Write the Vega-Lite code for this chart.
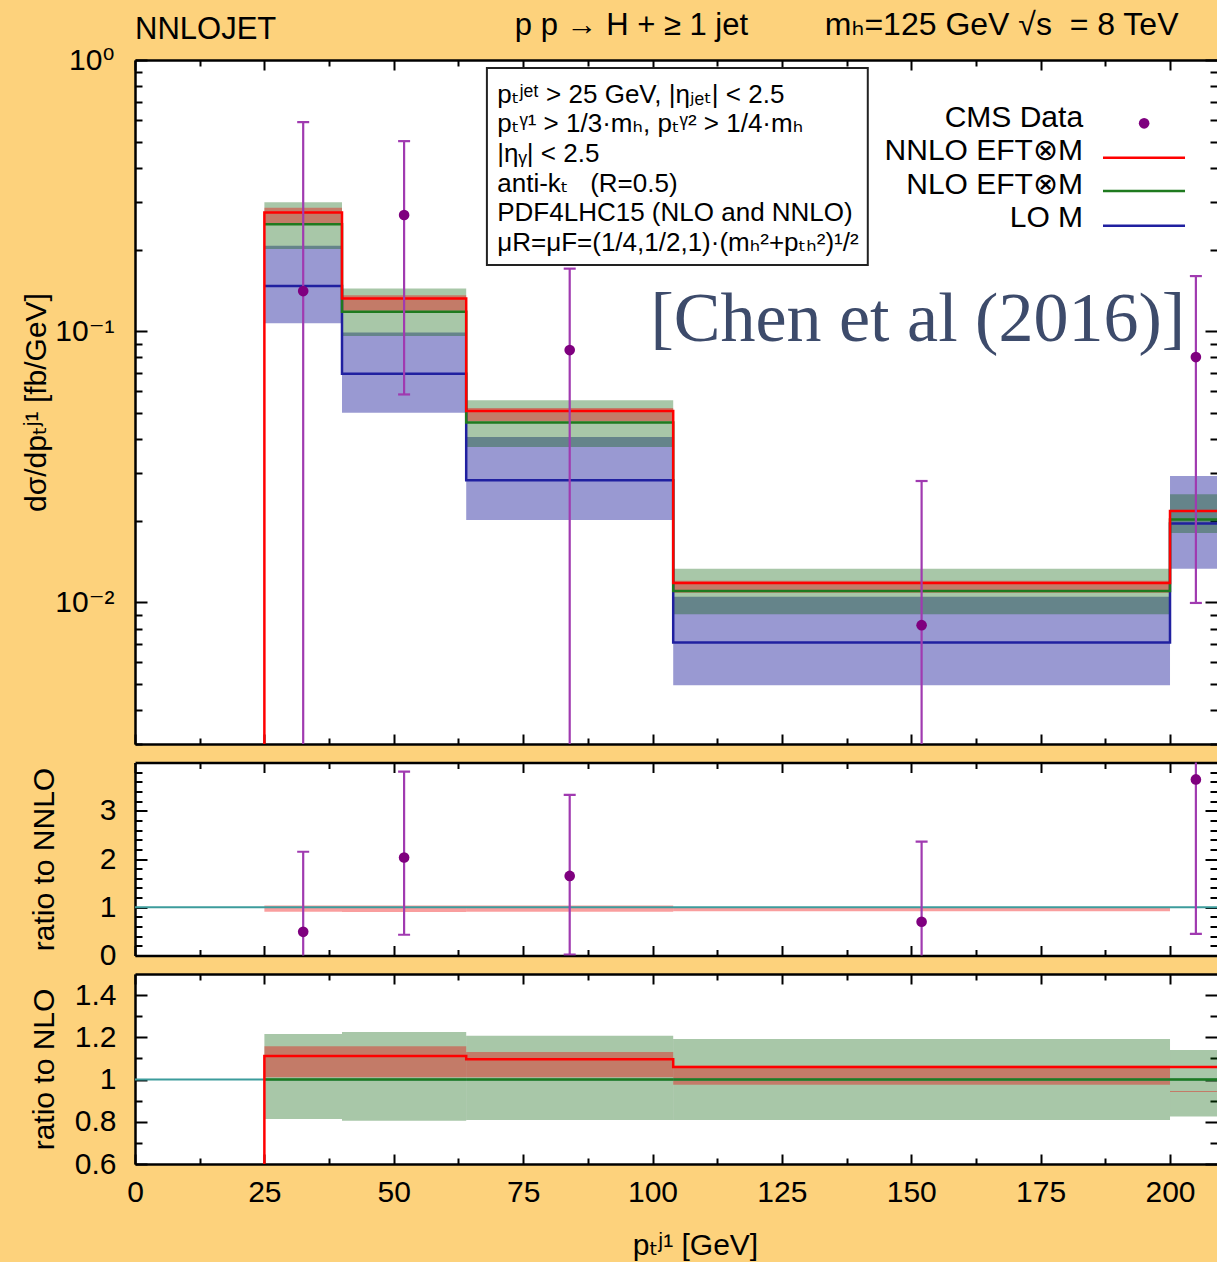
{
  "$schema": "https://vega.github.io/schema/vega-lite/v6.json",
  "background": "#FDD27C",
  "padding": {"left": 21, "top": 9, "right": 0, "bottom": 2},
  "config": {
    "font": "Liberation Sans, DejaVu Sans",
    "view": {"fill": "white", "stroke": null},
    "axis": {
      "labelFont": "Liberation Sans, DejaVu Sans",
      "labelFontSize": 30,
      "labelColor": "black",
      "titleFont": "Liberation Sans, DejaVu Sans",
      "titleFontSize": 30,
      "titleFontWeight": "normal",
      "titleColor": "black",
      "domainColor": "black",
      "domainWidth": 2.5,
      "tickColor": "black",
      "tickWidth": 2,
      "grid": false,
      "labelOverlap": false,
      "labelFlush": false,
      "labelBound": false
    }
  },
  "datasets": {
    "bins": [
      {"order": "LO", "lo": 25, "hi": 40, "central": 0.1466, "low": 0.1068, "high": 0.2065},
      {"order": "LO", "lo": 40, "hi": 64, "central": 0.0696, "low": 0.05, "high": 0.0989},
      {"order": "LO", "lo": 64, "hi": 104, "central": 0.0282, "low": 0.0201, "high": 0.0407},
      {"order": "LO", "lo": 104, "hi": 200, "central": 0.0071, "low": 0.00494, "high": 0.01047},
      {"order": "LO", "lo": 200, "hi": 220, "central": 0.0195, "low": 0.0133, "high": 0.0292},
      {"order": "NLO", "lo": 25, "hi": 40, "central": 0.248, "low": 0.2008, "high": 0.299},
      {"order": "NLO", "lo": 40, "hi": 64, "central": 0.1178, "low": 0.0959, "high": 0.1437},
      {"order": "NLO", "lo": 64, "hi": 104, "central": 0.046, "low": 0.0374, "high": 0.0556},
      {"order": "NLO", "lo": 104, "hi": 200, "central": 0.011, "low": 0.00903, "high": 0.0133},
      {"order": "NLO", "lo": 200, "hi": 220, "central": 0.0202, "low": 0.018, "high": 0.025},
      {"order": "NNLO", "lo": 25, "hi": 40, "central": 0.274, "low": 0.25, "high": 0.285},
      {"order": "NNLO", "lo": 40, "hi": 64, "central": 0.1319, "low": 0.119, "high": 0.1355},
      {"order": "NNLO", "lo": 64, "hi": 104, "central": 0.0507, "low": 0.0465, "high": 0.0521},
      {"order": "NNLO", "lo": 104, "hi": 200, "central": 0.01178, "low": 0.01085, "high": 0.012}
    ],
    "steps": [
      {"order": "LO", "x": 25, "value": 0.1466},
      {"order": "LO", "x": 40, "value": 0.0696},
      {"order": "LO", "x": 64, "value": 0.0282},
      {"order": "LO", "x": 104, "value": 0.0071},
      {"order": "LO", "x": 200, "value": 0.0195},
      {"order": "LO", "x": 220, "value": 0.0195},
      {"order": "NLO", "x": 25, "value": 0.248},
      {"order": "NLO", "x": 40, "value": 0.1178},
      {"order": "NLO", "x": 64, "value": 0.046},
      {"order": "NLO", "x": 104, "value": 0.011},
      {"order": "NLO", "x": 200, "value": 0.0202},
      {"order": "NLO", "x": 220, "value": 0.0202},
      {"order": "NNLO", "x": 25, "value": 0.0001},
      {"order": "NNLO", "x": 25, "value": 0.274},
      {"order": "NNLO", "x": 40, "value": 0.1319},
      {"order": "NNLO", "x": 64, "value": 0.0507},
      {"order": "NNLO", "x": 104, "value": 0.01178},
      {"order": "NNLO", "x": 200, "value": 0.0217},
      {"order": "NNLO", "x": 220, "value": 0.0217}
    ],
    "cms": [
      {"x": 32.5, "value": 0.1405, "low": 0.001, "high": 0.59},
      {"x": 52, "value": 0.268, "low": 0.0584, "high": 0.502},
      {"x": 84, "value": 0.0851, "low": 0.001, "high": 0.17},
      {"x": 152, "value": 0.00823, "low": 0.001, "high": 0.028},
      {"x": 205, "value": 0.0802, "low": 0.00994, "high": 0.1596}
    ],
    "cms_ratio": [
      {"x": 32.5, "value": 0.49, "low": -0.5, "high": 2.15},
      {"x": 52, "value": 2.03, "low": 0.43, "high": 3.81},
      {"x": 84, "value": 1.65, "low": 0.02, "high": 3.33},
      {"x": 152, "value": 0.7, "low": -0.5, "high": 2.36},
      {"x": 205, "value": 3.65, "low": 0.45, "high": 4.6}
    ],
    "nnlo_band_ratio": [
      {"lo": 25, "hi": 40, "low": 0.905, "high": 1.037},
      {"lo": 40, "hi": 64, "low": 0.9, "high": 1.037},
      {"lo": 64, "hi": 104, "low": 0.905, "high": 1.035},
      {"lo": 104, "hi": 200, "low": 0.915, "high": 1.005}
    ],
    "nlo_ratio": [
      {"lo": 25, "hi": 40, "nlo": 1, "nlo_low": 0.813, "nlo_high": 1.216, "nnlo_low": 1.011, "nnlo_high": 1.158},
      {"lo": 40, "hi": 64, "nlo": 1, "nlo_low": 0.805, "nlo_high": 1.225, "nnlo_low": 1.011, "nnlo_high": 1.158},
      {"lo": 64, "hi": 104, "nlo": 1, "nlo_low": 0.808, "nlo_high": 1.208, "nnlo_low": 1.011, "nnlo_high": 1.13},
      {"lo": 104, "hi": 200, "nlo": 1, "nlo_low": 0.808, "nlo_high": 1.192, "nnlo_low": 0.975, "nnlo_high": 1.065},
      {"lo": 200, "hi": 220, "nlo": 1, "nlo_low": 0.825, "nlo_high": 1.14, "nnlo_low": 0.941, "nnlo_high": 0.946}
    ],
    "nnlo_ratio_steps": [
      {"x": 25, "value": 0.5},
      {"x": 25, "value": 1.111},
      {"x": 40, "value": 1.111},
      {"x": 64, "value": 1.096},
      {"x": 104, "value": 1.059},
      {"x": 200, "value": 1.059},
      {"x": 220, "value": 1.059}
    ],
    "one": [{}]
  },
  "spacing": 18.5,
  "bounds": "flush",
  "vconcat": [
    {
      "width": 1082,
      "height": 684,
      "resolve": {"axis": {"x": "independent", "y": "independent"}},
      "layer": [
        {
          "data": {"name": "bins"},
          "transform": [{"filter": "datum.order === 'LO'"}],
          "mark": {"type": "rect", "fill": "#00008E", "opacity": 0.4, "clip": true},
          "encoding": {
            "x": {"field": "lo", "type": "quantitative", "scale": {"domain": [0, 209.08], "nice": false, "zero": false},
                  "axis": {"orient": "bottom", "values": [0, 25, 50, 75, 100, 125, 150, 175, 200], "labels": false, "tickSize": -10, "domain": true, "title": null}},
            "x2": {"field": "hi"},
            "y": {"field": "low", "type": "quantitative", "scale": {"type": "log", "domain": [0.003, 1], "nice": false},
                  "axis": {"orient": "left", "values": [0.01, 0.1, 1], "labelExpr": "datum.value > 0.5 ? '10⁰' : datum.value > 0.05 ? '10⁻¹' : '10⁻²'", "tickSize": -12, "labelPadding": 33, "domain": true, "title": "dσ/dpₜʲ¹ [fb/GeV]", "titleX": -99, "titleBaseline": "middle"}},
            "y2": {"field": "high"}
          }
        },
        {
          "data": {"name": "bins"},
          "transform": [{"filter": "datum.order === 'NLO'"}],
          "mark": {"type": "rect", "fill": "#005A00", "opacity": 0.34, "clip": true},
          "encoding": {
            "x": {"field": "lo", "type": "quantitative", "scale": {"domain": [0, 209.08], "nice": false, "zero": false},
                  "axis": {"orient": "top", "values": [0, 25, 50, 75, 100, 125, 150, 175, 200], "labels": false, "tickSize": -10, "domain": true, "title": null}},
            "x2": {"field": "hi"},
            "y": {"field": "low", "type": "quantitative", "scale": {"type": "log", "domain": [0.003, 1], "nice": false},
                  "axis": {"orient": "left", "values": [0.003, 0.004, 0.005, 0.006, 0.007, 0.008, 0.009, 0.02, 0.03, 0.04, 0.05, 0.06, 0.07, 0.08, 0.09, 0.2, 0.3, 0.4, 0.5, 0.6, 0.7, 0.8, 0.9], "labels": false, "tickSize": -7, "domain": false, "title": null}},
            "y2": {"field": "high"}
          }
        },
        {
          "data": {"name": "bins"},
          "transform": [{"filter": "datum.order === 'NNLO'"}],
          "mark": {"type": "rect", "fill": "#F00000", "opacity": 0.38, "clip": true},
          "encoding": {
            "x": {"field": "lo", "type": "quantitative", "scale": {"domain": [0, 209.08], "nice": false, "zero": false},
                  "axis": {"orient": "bottom", "values": [12.5, 37.5, 62.5, 87.5, 112.5, 137.5, 162.5, 187.5], "labels": false, "tickSize": -6, "domain": false, "title": null}},
            "x2": {"field": "hi"},
            "y": {"field": "low", "type": "quantitative", "scale": {"type": "log", "domain": [0.003, 1], "nice": false},
                  "axis": {"orient": "right", "values": [0.01, 0.1, 1], "labels": false, "tickSize": -12, "domain": false, "title": null}},
            "y2": {"field": "high"}
          }
        },
        {
          "data": {"name": "steps"},
          "transform": [{"filter": "datum.order === 'LO'"}],
          "mark": {"type": "line", "interpolate": "step-after", "color": "#2020A0", "strokeWidth": 2.5, "clip": true},
          "encoding": {
            "x": {"field": "x", "type": "quantitative", "scale": {"domain": [0, 209.08], "nice": false, "zero": false},
                  "axis": {"orient": "top", "values": [12.5, 37.5, 62.5, 87.5, 112.5, 137.5, 162.5, 187.5], "labels": false, "tickSize": -6, "domain": false, "title": null}},
            "y": {"field": "value", "type": "quantitative", "scale": {"type": "log", "domain": [0.003, 1], "nice": false},
                  "axis": {"orient": "right", "values": [0.003, 0.004, 0.005, 0.006, 0.007, 0.008, 0.009, 0.02, 0.03, 0.04, 0.05, 0.06, 0.07, 0.08, 0.09, 0.2, 0.3, 0.4, 0.5, 0.6, 0.7, 0.8, 0.9], "labels": false, "tickSize": -7, "domain": false, "title": null}},
            "order": {"value": null}
          }
        },
        {
          "data": {"name": "steps"},
          "transform": [{"filter": "datum.order === 'NLO'"}],
          "mark": {"type": "line", "interpolate": "step-after", "color": "#1F7A1F", "strokeWidth": 2.5, "clip": true},
          "encoding": {
            "x": {"field": "x", "type": "quantitative", "scale": {"domain": [0, 209.08], "nice": false, "zero": false}, "axis": null},
            "y": {"field": "value", "type": "quantitative", "scale": {"type": "log", "domain": [0.003, 1], "nice": false}, "axis": null},
            "order": {"value": null}
          }
        },
        {
          "data": {"name": "steps"},
          "transform": [{"filter": "datum.order === 'NNLO'"}],
          "mark": {"type": "line", "interpolate": "step-after", "color": "#FF0000", "strokeWidth": 2.5, "clip": true},
          "encoding": {
            "x": {"field": "x", "type": "quantitative", "scale": {"domain": [0, 209.08], "nice": false, "zero": false}, "axis": null},
            "y": {"field": "value", "type": "quantitative", "scale": {"type": "log", "domain": [0.003, 1], "nice": false}, "axis": null},
            "order": {"value": null}
          }
        },
        {
          "data": {"name": "cms"},
          "mark": {"type": "rule", "color": "#A03AB0", "strokeWidth": 2.2, "clip": true},
          "encoding": {
            "x": {"field": "x", "type": "quantitative", "scale": {"domain": [0, 209.08], "nice": false, "zero": false}, "axis": null},
            "y": {"field": "low", "type": "quantitative", "scale": {"type": "log", "domain": [0.003, 1], "nice": false}, "axis": null},
            "y2": {"field": "high"}
          }
        },
        {
          "data": {"name": "cms"},
          "mark": {"type": "tick", "orient": "horizontal", "color": "#A03AB0", "size": 12, "thickness": 2.2, "opacity": 1, "clip": true},
          "encoding": {
            "x": {"field": "x", "type": "quantitative", "scale": {"domain": [0, 209.08], "nice": false, "zero": false}, "axis": null},
            "y": {"field": "high", "type": "quantitative", "scale": {"type": "log", "domain": [0.003, 1], "nice": false}, "axis": null}
          }
        },
        {
          "data": {"name": "cms"},
          "mark": {"type": "tick", "orient": "horizontal", "color": "#A03AB0", "size": 12, "thickness": 2.2, "opacity": 1, "clip": true},
          "encoding": {
            "x": {"field": "x", "type": "quantitative", "scale": {"domain": [0, 209.08], "nice": false, "zero": false}, "axis": null},
            "y": {"field": "low", "type": "quantitative", "scale": {"type": "log", "domain": [0.003, 1], "nice": false}, "axis": null}
          }
        },
        {
          "data": {"name": "cms"},
          "mark": {"type": "point", "filled": true, "size": 113, "color": "#7F007F", "opacity": 1, "clip": true},
          "encoding": {
            "x": {"field": "x", "type": "quantitative", "scale": {"domain": [0, 209.08], "nice": false, "zero": false}, "axis": null},
            "y": {"field": "value", "type": "quantitative", "scale": {"type": "log", "domain": [0.003, 1], "nice": false}, "axis": null}
          }
        },
        {
          "data": {"name": "one"},
          "mark": {"type": "rect", "fill": "white", "stroke": "#222222", "strokeWidth": 2},
          "encoding": {
            "x": {"datum": 68.0, "type": "quantitative", "scale": {"domain": [0, 209.08], "nice": false, "zero": false}, "axis": null},
            "x2": {"datum": 141.6},
            "y": {"datum": 0.934, "type": "quantitative", "scale": {"type": "log", "domain": [0.003, 1], "nice": false}, "axis": null},
            "y2": {"datum": 0.1753}
          }
        },
        {
          "data": {"name": "one"},
          "mark": {"type": "text", "align": "left", "baseline": "alphabetic", "fontSize": 26, "lineHeight": 29.6, "color": "black",
                   "text": ["pₜʲᵉᵗ > 25 GeV, |ηⱼₑₜ| < 2.5", "pₜᵞ¹ > 1/3·mₕ, pₜᵞ² > 1/4·mₕ", "|ηᵧ| < 2.5", "anti-kₜ\u00a0\u00a0\u00a0(R=0.5)", "PDF4LHC15 (NLO and NNLO)", "μR=μF=(1/4,1/2,1)·(mₕ²+pₜₕ²)¹/²"]},
          "encoding": {
            "x": {"datum": 70.0, "type": "quantitative", "scale": {"domain": [0, 209.08], "nice": false, "zero": false}, "axis": null},
            "y": {"datum": 0.695, "type": "quantitative", "scale": {"type": "log", "domain": [0.003, 1], "nice": false}, "axis": null}
          }
        },
        {
          "data": {"name": "one"},
          "mark": {"type": "text", "align": "right", "baseline": "alphabetic", "fontSize": 30, "lineHeight": 33.4, "color": "black",
                   "text": ["CMS Data", "NNLO EFT⊗M", "NLO EFT⊗M", "LO M"]},
          "encoding": {
            "x": {"datum": 183.2, "type": "quantitative", "scale": {"domain": [0, 209.08], "nice": false, "zero": false}, "axis": null},
            "y": {"datum": 0.567, "type": "quantitative", "scale": {"type": "log", "domain": [0.003, 1], "nice": false}, "axis": null}
          }
        },
        {
          "data": {"name": "one"},
          "mark": {"type": "point", "filled": true, "size": 113, "color": "#7F007F", "opacity": 1},
          "encoding": {
            "x": {"datum": 195.0, "type": "quantitative", "scale": {"domain": [0, 209.08], "nice": false, "zero": false}, "axis": null},
            "y": {"datum": 0.5839, "type": "quantitative", "scale": {"type": "log", "domain": [0.003, 1], "nice": false}, "axis": null}
          }
        },
        {
          "data": {"name": "one"},
          "mark": {"type": "rule", "color": "#FF0000", "strokeWidth": 2.5},
          "encoding": {
            "x": {"datum": 187.05, "type": "quantitative", "scale": {"domain": [0, 209.08], "nice": false, "zero": false}, "axis": null},
            "x2": {"datum": 202.9},
            "y": {"datum": 0.4359, "type": "quantitative", "scale": {"type": "log", "domain": [0.003, 1], "nice": false}, "axis": null}
          }
        },
        {
          "data": {"name": "one"},
          "mark": {"type": "rule", "color": "#1F7A1F", "strokeWidth": 2.5},
          "encoding": {
            "x": {"datum": 187.05, "type": "quantitative", "scale": {"domain": [0, 209.08], "nice": false, "zero": false}, "axis": null},
            "x2": {"datum": 202.9},
            "y": {"datum": 0.3285, "type": "quantitative", "scale": {"type": "log", "domain": [0.003, 1], "nice": false}, "axis": null}
          }
        },
        {
          "data": {"name": "one"},
          "mark": {"type": "rule", "color": "#2020A0", "strokeWidth": 2.5},
          "encoding": {
            "x": {"datum": 187.05, "type": "quantitative", "scale": {"domain": [0, 209.08], "nice": false, "zero": false}, "axis": null},
            "x2": {"datum": 202.9},
            "y": {"datum": 0.2446, "type": "quantitative", "scale": {"type": "log", "domain": [0.003, 1], "nice": false}, "axis": null}
          }
        },
        {
          "data": {"name": "one"},
          "mark": {"type": "text", "text": "NNLOJET", "align": "left", "baseline": "alphabetic", "fontSize": 31, "dy": -21, "color": "black"},
          "encoding": {
            "x": {"datum": 0, "type": "quantitative", "scale": {"domain": [0, 209.08], "nice": false, "zero": false}, "axis": null},
            "y": {"datum": 1, "type": "quantitative", "scale": {"type": "log", "domain": [0.003, 1], "nice": false}, "axis": null}
          }
        },
        {
          "data": {"name": "one"},
          "mark": {"type": "text", "text": "p p → H + ≥ 1 jet", "align": "left", "baseline": "alphabetic", "fontSize": 31, "dy": -25, "color": "black"},
          "encoding": {
            "x": {"datum": 73.4, "type": "quantitative", "scale": {"domain": [0, 209.08], "nice": false, "zero": false}, "axis": null},
            "y": {"datum": 1, "type": "quantitative", "scale": {"type": "log", "domain": [0.003, 1], "nice": false}, "axis": null}
          }
        },
        {
          "data": {"name": "one"},
          "mark": {"type": "text", "text": "mₕ=125 GeV √s\u00a0\u00a0= 8 TeV", "align": "left", "baseline": "alphabetic", "fontSize": 32, "dy": -25, "color": "black"},
          "encoding": {
            "x": {"datum": 133.3, "type": "quantitative", "scale": {"domain": [0, 209.08], "nice": false, "zero": false}, "axis": null},
            "y": {"datum": 1, "type": "quantitative", "scale": {"type": "log", "domain": [0.003, 1], "nice": false}, "axis": null}
          }
        },
        {
          "data": {"name": "one"},
          "mark": {"type": "text", "text": "[Chen et al (2016)]", "align": "right", "baseline": "middle", "font": "Liberation Serif", "fontSize": 70, "color": "#3D4B6B"},
          "encoding": {
            "x": {"datum": 202.9, "type": "quantitative", "scale": {"domain": [0, 209.08], "nice": false, "zero": false}, "axis": null},
            "y": {"datum": 0.1098, "type": "quantitative", "scale": {"type": "log", "domain": [0.003, 1], "nice": false}, "axis": null}
          }
        }
      ]
    },
    {
      "width": 1082,
      "height": 193,
      "resolve": {"axis": {"x": "independent", "y": "independent"}},
      "layer": [
        {
          "data": {"name": "nnlo_band_ratio"},
          "mark": {"type": "rect", "fill": "#F00000", "opacity": 0.38, "clip": true},
          "encoding": {
            "x": {"field": "lo", "type": "quantitative", "scale": {"domain": [0, 209.08], "nice": false, "zero": false},
                  "axis": {"orient": "bottom", "values": [0, 25, 50, 75, 100, 125, 150, 175, 200], "labels": false, "tickSize": -10, "domain": true, "title": null}},
            "x2": {"field": "hi"},
            "y": {"field": "low", "type": "quantitative", "scale": {"domain": [0, 4], "nice": false, "zero": false},
                  "axis": {"orient": "left", "values": [0, 1, 2, 3], "tickSize": -12, "labelPadding": 31, "domain": true, "title": "ratio to NNLO", "titleX": -91, "titleBaseline": "middle"}},
            "y2": {"field": "high"}
          }
        },
        {
          "data": {"name": "one"},
          "mark": {"type": "rule", "color": "#3C9C9C", "strokeWidth": 2},
          "encoding": {
            "y": {"datum": 1, "type": "quantitative", "scale": {"domain": [0, 4], "nice": false, "zero": false}, "axis": null}
          }
        },
        {
          "data": {"name": "cms_ratio"},
          "mark": {"type": "rule", "color": "#A03AB0", "strokeWidth": 2.2, "clip": true},
          "encoding": {
            "x": {"field": "x", "type": "quantitative", "scale": {"domain": [0, 209.08], "nice": false, "zero": false},
                  "axis": {"orient": "top", "values": [0, 25, 50, 75, 100, 125, 150, 175, 200], "labels": false, "tickSize": -10, "domain": true, "title": null}},
            "y": {"field": "low", "type": "quantitative", "scale": {"domain": [0, 4], "nice": false, "zero": false},
                  "axis": {"orient": "left", "values": [0.2, 0.4, 0.6, 0.8, 1.2, 1.4, 1.6, 1.8, 2.2, 2.4, 2.6, 2.8, 3.2, 3.4, 3.6, 3.8], "labels": false, "tickSize": -7, "domain": false, "title": null}},
            "y2": {"field": "high"}
          }
        },
        {
          "data": {"name": "cms_ratio"},
          "mark": {"type": "tick", "orient": "horizontal", "color": "#A03AB0", "size": 12, "thickness": 2.2, "opacity": 1, "clip": true},
          "encoding": {
            "x": {"field": "x", "type": "quantitative", "scale": {"domain": [0, 209.08], "nice": false, "zero": false},
                  "axis": {"orient": "bottom", "values": [12.5, 37.5, 62.5, 87.5, 112.5, 137.5, 162.5, 187.5], "labels": false, "tickSize": -6, "domain": false, "title": null}},
            "y": {"field": "high", "type": "quantitative", "scale": {"domain": [0, 4], "nice": false, "zero": false},
                  "axis": {"orient": "right", "values": [0, 1, 2, 3], "labels": false, "tickSize": -12, "domain": false, "title": null}}
          }
        },
        {
          "data": {"name": "cms_ratio"},
          "mark": {"type": "tick", "orient": "horizontal", "color": "#A03AB0", "size": 12, "thickness": 2.2, "opacity": 1, "clip": true},
          "encoding": {
            "x": {"field": "x", "type": "quantitative", "scale": {"domain": [0, 209.08], "nice": false, "zero": false},
                  "axis": {"orient": "top", "values": [12.5, 37.5, 62.5, 87.5, 112.5, 137.5, 162.5, 187.5], "labels": false, "tickSize": -6, "domain": false, "title": null}},
            "y": {"field": "low", "type": "quantitative", "scale": {"domain": [0, 4], "nice": false, "zero": false},
                  "axis": {"orient": "right", "values": [0.2, 0.4, 0.6, 0.8, 1.2, 1.4, 1.6, 1.8, 2.2, 2.4, 2.6, 2.8, 3.2, 3.4, 3.6, 3.8], "labels": false, "tickSize": -7, "domain": false, "title": null}}
          }
        },
        {
          "data": {"name": "cms_ratio"},
          "mark": {"type": "point", "filled": true, "size": 113, "color": "#7F007F", "opacity": 1, "clip": true},
          "encoding": {
            "x": {"field": "x", "type": "quantitative", "scale": {"domain": [0, 209.08], "nice": false, "zero": false}, "axis": null},
            "y": {"field": "value", "type": "quantitative", "scale": {"domain": [0, 4], "nice": false, "zero": false}, "axis": null}
          }
        }
      ]
    },
    {
      "width": 1082,
      "height": 190,
      "resolve": {"axis": {"x": "independent", "y": "independent"}},
      "layer": [
        {
          "data": {"name": "nlo_ratio"},
          "mark": {"type": "rect", "fill": "#005A00", "opacity": 0.34, "clip": true},
          "encoding": {
            "x": {"field": "lo", "type": "quantitative", "scale": {"domain": [0, 209.08], "nice": false, "zero": false},
                  "axis": {"orient": "bottom", "values": [0, 25, 50, 75, 100, 125, 150, 175, 200], "format": "d", "tickSize": -10, "labelPadding": 23, "domain": true, "title": "pₜʲ¹ [GeV]", "titleX": 560, "titleY": 81, "titleBaseline": "middle"}},
            "x2": {"field": "hi"},
            "y": {"field": "nlo_low", "type": "quantitative", "scale": {"domain": [0.6, 1.5], "nice": false, "zero": false},
                  "axis": {"orient": "left", "values": [0.6, 0.8, 1, 1.2, 1.4], "format": "~g", "tickSize": -12, "labelPadding": 31, "domain": true, "title": "ratio to NLO", "titleX": -91, "titleBaseline": "middle"}},
            "y2": {"field": "nlo_high"}
          }
        },
        {
          "data": {"name": "nlo_ratio"},
          "mark": {"type": "rect", "fill": "#F00000", "opacity": 0.38, "clip": true},
          "encoding": {
            "x": {"field": "lo", "type": "quantitative", "scale": {"domain": [0, 209.08], "nice": false, "zero": false},
                  "axis": {"orient": "top", "values": [0, 25, 50, 75, 100, 125, 150, 175, 200], "labels": false, "tickSize": -10, "domain": true, "title": null}},
            "x2": {"field": "hi"},
            "y": {"field": "nnlo_low", "type": "quantitative", "scale": {"domain": [0.6, 1.5], "nice": false, "zero": false},
                  "axis": {"orient": "left", "values": [0.7, 0.9, 1.1, 1.3], "labels": false, "tickSize": -7, "domain": false, "title": null}},
            "y2": {"field": "nnlo_high"}
          }
        },
        {
          "data": {"name": "one"},
          "mark": {"type": "rule", "color": "#3C9C9C", "strokeWidth": 2},
          "encoding": {
            "y": {"datum": 1, "type": "quantitative", "scale": {"domain": [0.6, 1.5], "nice": false, "zero": false}, "axis": null}
          }
        },
        {
          "data": {"name": "nlo_ratio"},
          "mark": {"type": "rule", "color": "#1F7A1F", "strokeWidth": 2.5, "clip": true},
          "encoding": {
            "x": {"field": "lo", "type": "quantitative", "scale": {"domain": [0, 209.08], "nice": false, "zero": false},
                  "axis": {"orient": "bottom", "values": [12.5, 37.5, 62.5, 87.5, 112.5, 137.5, 162.5, 187.5], "labels": false, "tickSize": -6, "domain": false, "title": null}},
            "x2": {"field": "hi"},
            "y": {"field": "nlo", "type": "quantitative", "scale": {"domain": [0.6, 1.5], "nice": false, "zero": false},
                  "axis": {"orient": "right", "values": [0.6, 0.8, 1, 1.2, 1.4], "labels": false, "tickSize": -12, "domain": false, "title": null}}
          }
        },
        {
          "data": {"name": "nnlo_ratio_steps"},
          "mark": {"type": "line", "interpolate": "step-after", "color": "#FF0000", "strokeWidth": 2.5, "clip": true},
          "encoding": {
            "x": {"field": "x", "type": "quantitative", "scale": {"domain": [0, 209.08], "nice": false, "zero": false},
                  "axis": {"orient": "top", "values": [12.5, 37.5, 62.5, 87.5, 112.5, 137.5, 162.5, 187.5], "labels": false, "tickSize": -6, "domain": false, "title": null}},
            "y": {"field": "value", "type": "quantitative", "scale": {"domain": [0.6, 1.5], "nice": false, "zero": false},
                  "axis": {"orient": "right", "values": [0.7, 0.9, 1.1, 1.3], "labels": false, "tickSize": -7, "domain": false, "title": null}},
            "order": {"value": null}
          }
        }
      ]
    }
  ]
}
